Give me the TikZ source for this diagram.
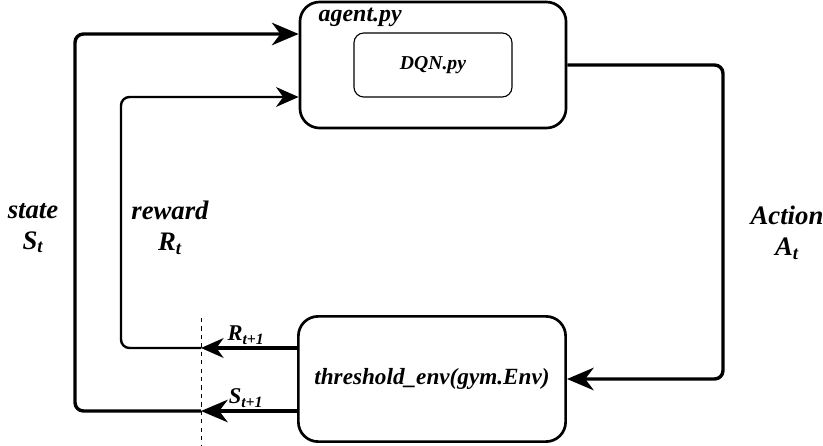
\documentclass[tikz,border=0pt]{standalone}
\usepackage{fontspec}
\setmainfont{Liberation Serif}
\usetikzlibrary{arrows.meta}
\usetikzlibrary{positioning}

\tikzset{
  box/.style={draw, line width=1.9pt, rounded corners=14pt, inner sep=0pt},
  innerbox/.style={draw, line width=0.8pt, rounded corners=7pt, inner sep=0pt},
  lbl/.style={font=\fontsize{19}{22}\selectfont\bfseries\itshape, align=center, inner sep=1pt},
  boxlbl/.style={font=\fontsize{16}{19}\selectfont\bfseries\itshape, inner sep=1pt},
  thickflow/.style={line width=2.4pt, rounded corners=6pt, -{Stealth[length=19pt,width=16pt,inset=6pt]}},
  thinflow/.style={line width=1.7pt, rounded corners=6pt, -{Stealth[length=16pt,width=14pt,inset=5pt]}},
}

\begin{document}
\begin{tikzpicture}[x=0.025cm,y=-0.025cm]
\useasboundingbox (0,0) rectangle (823,446);

% boxes
\node[box, minimum width=6.65cm, minimum height=3.15cm] (agent) at (433,65) {};
\node[innerbox, minimum width=3.95cm, minimum height=1.6cm, boxlbl, font=\fontsize{14}{17}\selectfont\bfseries\itshape] (dqn) at (433,65) {DQN.py};
\node[boxlbl, anchor=west, font=\fontsize{17}{19}\selectfont\bfseries\itshape] (agentname) at (317,17) {agent.py};
\node[box, minimum width=6.68cm, minimum height=3.13cm, boxlbl, font=\fontsize{16.5}{19}\selectfont\bfseries\itshape] (env) at (432,379) {threshold\_env(gym.Env)};

% helper points
\coordinate (scut) at (201,411);
\coordinate (rcut) at (201,348);
\coordinate (sleft) at (75,411);
\coordinate (rleft) at (121,348);
\coordinate (sin) at (300,34);
\coordinate (rin) at (300,97);
\coordinate (aright) at (723,65);
\coordinate (dtop) at (201,318);
\coordinate (dbot) at (201,446);

% action
\draw[thickflow] (agent.east) -- (aright) |- (env.east);

% state loop
\draw[thickflow] (env.west |- scut) -- (scut);
\draw[thickflow] (scut) -- (sleft) |- (agent.west |- sin);

% reward loop
\draw[thinflow, line width=2.2pt] (env.west |- rcut) -- (rcut);
\draw[thinflow] (rcut) -- (rleft) |- (agent.west |- rin);

\draw[dashed, line width=0.6pt] (dtop) -- (dbot);

% labels
\node[lbl] (statelbl) at (33,228) {state\\S\textsubscript{t}};
\node[lbl] (rewardlbl) at (170,228) {reward\\R\textsubscript{t}};
\node[lbl] (actionlbl) at (787,233) {Action\\A\textsubscript{t}};
\node[boxlbl] (rnext) at (246,335) {R\textsubscript{t+1}};
\node[boxlbl] (snext) at (246,398) {S\textsubscript{t+1}};
\end{tikzpicture}
\end{document}
